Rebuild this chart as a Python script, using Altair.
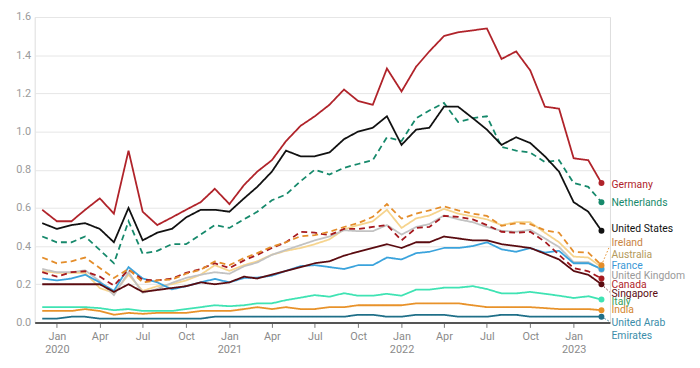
import altair as alt
import pandas as pd

# ---------------- data (monthly, Dec 2019 .. Mar 2023) ----------------
months = pd.date_range("2019-12-01", periods=40, freq="MS")

germany = [0.59, 0.53, 0.53, 0.59, 0.65, 0.57, 0.90, 0.58, 0.51, 0.55, 0.59, 0.63,
           0.70, 0.62, 0.72, 0.79, 0.85, 0.95, 1.03, 1.08, 1.14, 1.22, 1.16, 1.14,
           1.33, 1.21, 1.34, 1.42, 1.50, 1.52, 1.53, 1.54, 1.38, 1.42, 1.32, 1.13,
           1.12, 0.86, 0.85, 0.73]
netherlands = [0.45, 0.42, 0.42, 0.45, 0.38, 0.31, 0.53, 0.36, 0.375, 0.41, 0.41, 0.46,
               0.51, 0.495, 0.54, 0.58, 0.64, 0.67, 0.74, 0.80, 0.775, 0.81, 0.83, 0.85,
               0.97, 0.95, 1.07, 1.11, 1.15, 1.05, 1.07, 1.08, 0.92, 0.90, 0.89, 0.84,
               0.85, 0.73, 0.71, 0.63]
united_states = [0.52, 0.49, 0.51, 0.52, 0.49, 0.42, 0.60, 0.43, 0.47, 0.49, 0.55, 0.59,
                 0.59, 0.58, 0.65, 0.71, 0.79, 0.90, 0.87, 0.87, 0.89, 0.96, 1.00, 1.02,
                 1.08, 0.93, 1.01, 1.02, 1.13, 1.13, 1.07, 1.01, 0.93, 0.97, 0.94, 0.87,
                 0.79, 0.63, 0.58, 0.48]
ireland = [0.34, 0.31, 0.32, 0.34, 0.285, 0.233, 0.28, 0.21, 0.22, 0.225, 0.255, 0.276,
           0.32, 0.30, 0.337, 0.363, 0.397, 0.42, 0.452, 0.457, 0.475, 0.50, 0.52, 0.553,
           0.62, 0.544, 0.57, 0.587, 0.608, 0.587, 0.57, 0.558, 0.506, 0.52, 0.515, 0.483,
           0.47, 0.37, 0.366, 0.30]
australia = [0.27, 0.26, 0.26, 0.26, 0.18, 0.155, 0.25, 0.165, 0.19, 0.20, 0.22, 0.25,
             0.30, 0.27, 0.30, 0.32, 0.355, 0.375, 0.39, 0.41, 0.435, 0.487, 0.51, 0.53,
             0.59, 0.495, 0.545, 0.56, 0.595, 0.57, 0.555, 0.54, 0.51, 0.525, 0.525, 0.47,
             0.42, 0.345, 0.34, 0.29]
france = [0.23, 0.22, 0.23, 0.25, 0.21, 0.165, 0.29, 0.23, 0.21, 0.173, 0.19, 0.21,
          0.228, 0.21, 0.233, 0.235, 0.245, 0.27, 0.295, 0.30, 0.29, 0.28, 0.30, 0.30,
          0.34, 0.33, 0.363, 0.37, 0.39, 0.39, 0.40, 0.42, 0.383, 0.37, 0.389, 0.366,
          0.375, 0.31, 0.31, 0.28]
united_kingdom = [0.28, 0.263, 0.263, 0.273, 0.216, 0.143, 0.263, 0.155, 0.176, 0.207, 0.233, 0.25,
                  0.263, 0.255, 0.294, 0.314, 0.354, 0.38, 0.405, 0.43, 0.45, 0.483, 0.478, 0.478,
                  0.51, 0.46, 0.50, 0.515, 0.56, 0.54, 0.525, 0.50, 0.48, 0.475, 0.485, 0.44,
                  0.395, 0.316, 0.316, 0.276]
canada = [0.263, 0.24, 0.263, 0.268, 0.24, 0.193, 0.276, 0.224, 0.22, 0.23, 0.26, 0.28,
          0.31, 0.285, 0.325, 0.354, 0.39, 0.42, 0.475, 0.47, 0.457, 0.49, 0.49, 0.50,
          0.51, 0.43, 0.495, 0.50, 0.558, 0.553, 0.54, 0.51, 0.475, 0.47, 0.475, 0.423,
          0.354, 0.285, 0.268, 0.23]
singapore = [0.20, 0.20, 0.20, 0.20, 0.20, 0.16, 0.20, 0.16, 0.17, 0.18, 0.19, 0.21,
             0.20, 0.21, 0.24, 0.23, 0.25, 0.27, 0.29, 0.31, 0.32, 0.35, 0.37, 0.39,
             0.41, 0.39, 0.42, 0.42, 0.45, 0.44, 0.43, 0.43, 0.41, 0.40, 0.39, 0.36,
             0.33, 0.27, 0.25, 0.20]
italy = [0.08, 0.08, 0.08, 0.08, 0.075, 0.064, 0.07, 0.06, 0.06, 0.06, 0.07, 0.08,
         0.09, 0.085, 0.09, 0.10, 0.10, 0.117, 0.13, 0.143, 0.135, 0.153, 0.14, 0.14,
         0.15, 0.14, 0.172, 0.172, 0.182, 0.182, 0.19, 0.175, 0.152, 0.152, 0.16, 0.15,
         0.14, 0.128, 0.137, 0.12]
india = [0.06, 0.06, 0.06, 0.07, 0.06, 0.04, 0.05, 0.045, 0.05, 0.05, 0.05, 0.06,
         0.06, 0.06, 0.07, 0.08, 0.07, 0.08, 0.07, 0.07, 0.08, 0.08, 0.09, 0.09,
         0.09, 0.09, 0.10, 0.10, 0.10, 0.10, 0.09, 0.08, 0.08, 0.08, 0.08, 0.075,
         0.07, 0.07, 0.07, 0.064]
uae = [0.02, 0.02, 0.03, 0.03, 0.02, 0.02, 0.02, 0.02, 0.02, 0.02, 0.02, 0.02,
       0.03, 0.03, 0.03, 0.03, 0.03, 0.03, 0.03, 0.03, 0.03, 0.03, 0.04, 0.04,
       0.03, 0.03, 0.04, 0.04, 0.04, 0.03, 0.03, 0.03, 0.04, 0.04, 0.03, 0.03,
       0.03, 0.03, 0.03, 0.03]

# drawing order: back to front
series = {
    "Australia": australia,
    "United Kingdom": united_kingdom,
    "United Arab Emirates": uae,
    "India": india,
    "Italy": italy,
    "France": france,
    "Singapore": singapore,
    "Canada": canada,
    "Ireland": ireland,
    "Netherlands": netherlands,
    "United States": united_states,
    "Germany": germany,
}

y_ticks = [0, 0.2, 0.4, 0.6, 0.8, 1.0, 1.2, 1.4, 1.6]

# label text lines and their vertical placement (in data units)
label_text = ["Germany", "Netherlands", "United States", "Ireland", "Australia", "France",
              "United Kingdom", "Canada", "Singapore", "Italy", "India", "United Arab", "Emirates"]
label_owner = ["Germany", "Netherlands", "United States", "Ireland", "Australia", "France",
               "United Kingdom", "Canada", "Singapore", "Italy", "India",
               "United Arab Emirates", "United Arab Emirates"]
label_y = [0.72, 0.625, 0.49, 0.418, 0.352, 0.294, 0.245, 0.197, 0.150, 0.107, 0.067, -0.005, -0.069]

# ---------------- styles ----------------
line_color = {
    "Germany": "#b0232a", "Netherlands": "#16896b", "United States": "#111111",
    "Ireland": "#e48d2a", "Australia": "#f6d48e", "France": "#3aa3dc",
    "United Kingdom": "#c2c2c2", "Canada": "#a5191f", "Singapore": "#5a0b10",
    "Italy": "#3fe3b3", "India": "#e8922a", "United Arab Emirates": "#1f6f88",
}
text_color = {
    "Germany": "#b0232a", "Netherlands": "#16896b", "United States": "#111111",
    "Ireland": "#c9843f", "Australia": "#b49a5c", "France": "#3a98d6",
    "United Kingdom": "#9a9a9a", "Canada": "#b0262b", "Singapore": "#5a0b10",
    "Italy": "#3a9e5a", "India": "#d3862f", "United Arab Emirates": "#3a8daa",
}
dashed = {"Netherlands", "Ireland", "Canada"}
leaders = ["Ireland", "Singapore", "United Arab Emirates"]

X_START = alt.DateTime(year=2019, month=11, date=15)
X_END = alt.DateTime(year=2023, month=3, date=19)
X_END_TS = pd.Timestamp("2023-03-18")

rows = []
for name, vals in series.items():
    for m, v in zip(months, vals):
        rows.append({"date": m, "value": v, "country": name,
                     "dash": "dashed" if name in dashed else "solid"})
df = pd.DataFrame(rows)
last = df[df["date"] == months[-1]]

lab = pd.DataFrame({"text": label_text, "owner": label_owner, "value": label_y,
                    "date": [X_END_TS] * len(label_text)})
lab["tcolor"] = lab["owner"].map(text_color)

lead_rows = []
for name in leaders:
    end_v = series[name][-1]
    ly = label_y[label_owner.index(name)]
    lead_rows.append({"owner": name, "date": months[-1], "value": end_v,
                      "date2": X_END_TS, "y2": ly + (-0.02 if ly > end_v else 0.01),
                      "c": line_color[name]})
lead = pd.DataFrame(lead_rows)

names = list(series.keys())
color_scale = alt.Scale(domain=names, range=[line_color[n] for n in names])

tick_vals = []
for yr in [2020, 2021, 2022]:
    for mo in [1, 4, 7, 10]:
        tick_vals.append(alt.DateTime(year=yr, month=mo, date=1))
tick_vals.append(alt.DateTime(year=2023, month=1, date=1))

x_axis = alt.Axis(values=tick_vals, title=None, grid=False,
                  labelExpr="month(datum.value) == 0 ? [timeFormat(datum.value, '%b'), timeFormat(datum.value, '%Y')] : timeFormat(datum.value, '%b')",
                  domainColor="#555555", domainWidth=2, tickColor="#777777",
                  tickSize=5, labelColor="#8a8a8a", labelFontSize=11,
                  labelPadding=3, labelLineHeight=13, labelFlush=False,
                  labelOverlap=False)
y_axis = alt.Axis(values=y_ticks, format=".1f",
                  title=None, domain=False, ticks=False, gridColor="#e6e6e6",
                  labelColor="#9a9a9a", labelFontSize=11, labelPadding=4,
                  labelOverlap=False, labelFlush=False, tickCount=9)
x_scale = alt.Scale(domain=[X_START, X_END])
y_scale = alt.Scale(domain=[0, 1.6], nice=False)


def X(field):
    return alt.X(field, scale=x_scale, axis=x_axis)


def Y(field):
    return alt.Y(field, scale=y_scale, axis=y_axis)


lines = alt.Chart(df).mark_line(strokeWidth=1.8).encode(
    x=X("date:T"), y=Y("value:Q"),
    color=alt.Color("country:N", scale=color_scale, legend=None, sort=names),
    strokeDash=alt.StrokeDash("dash:N", scale=alt.Scale(domain=["solid", "dashed"],
                                                        range=[[1, 0], [6, 4]]), legend=None),
    detail="country:N",
)

dots = alt.Chart(last).mark_circle(size=36, opacity=1).encode(
    x=X("date:T"), y=Y("value:Q"),
    color=alt.Color("country:N", scale=color_scale, legend=None),
)

leader_rules = alt.Chart(lead).mark_rule(strokeWidth=1, strokeDash=[1.5, 2]).encode(
    x=X("date:T"), x2="date2:T", y=Y("value:Q"), y2="y2:Q",
    color=alt.Color("c:N", scale=None),
)

labels = alt.Chart(lab).mark_text(align="left", baseline="middle", dx=2,
                                  fontSize=10.5, font="Roboto").encode(
    x=X("date:T"), y=Y("value:Q"), text="text:N", color=alt.Color("tcolor:N", scale=None),
)

chart = alt.layer(lines, leader_rules, dots, labels).properties(
    width=582, height=309,
    autosize=alt.AutoSizeParams(type="none"),
    padding={"left": 27, "top": 7, "right": 83, "bottom": 44},
).configure_view(stroke=None).configure(font="Roboto")

chart.save("out.html", embed_options={"renderer": "svg", "actions": False})
